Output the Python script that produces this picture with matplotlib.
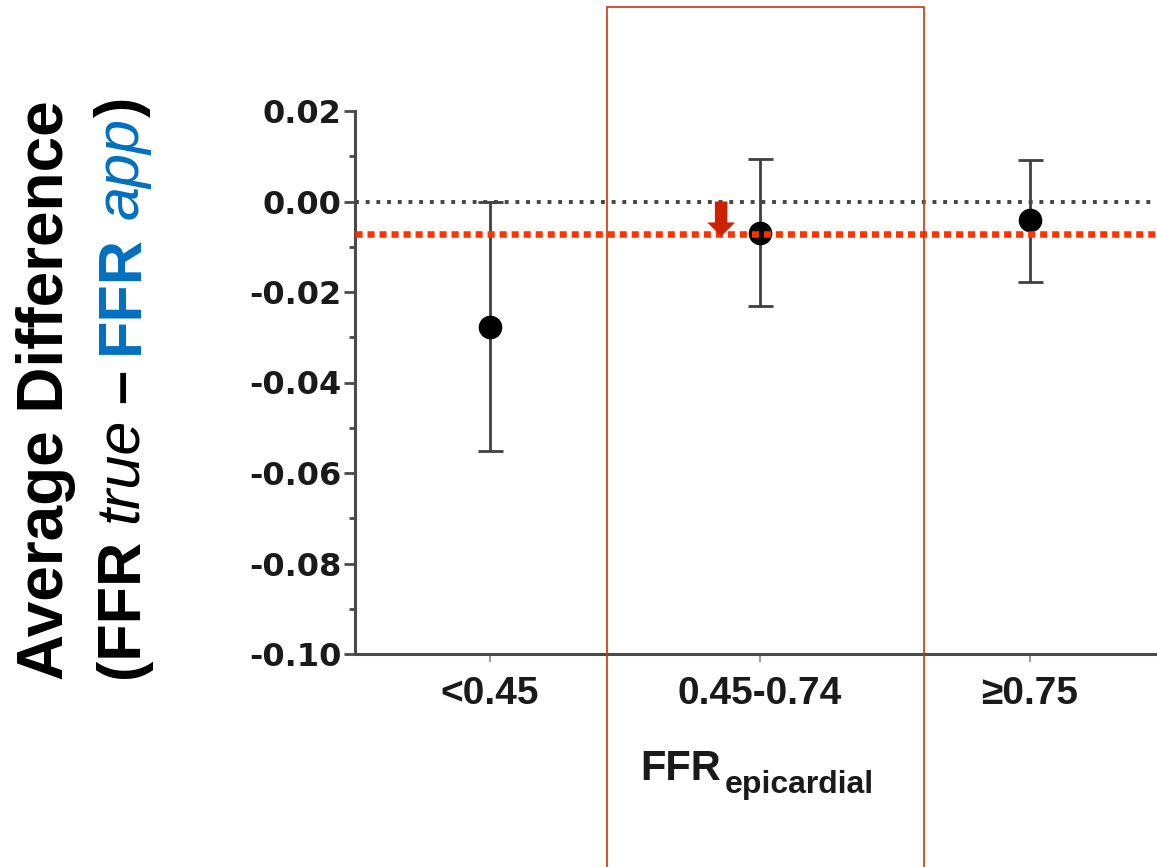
import matplotlib
matplotlib.use('Agg')
import matplotlib.pyplot as plt
from matplotlib.ticker import MultipleLocator, FixedLocator
from matplotlib.patches import Rectangle

# ---------------- data ----------------
categories = ['<0.45', '0.45-0.74', '≥0.75']
mean_diff = [-0.0277, -0.0069, -0.0040]
ci_upper = [0.0000, 0.0095, 0.0091]
ci_lower = [-0.0551, -0.0230, -0.0178]
overall_mean = -0.0071
y_ticks = [0.02, 0.00, -0.02, -0.04, -0.06, -0.08, -0.10]
y_tick_labels = ['0.02', '0.00', '-0.02', '-0.04', '-0.06', '-0.08', '-0.10']
arrow_x = 0.856
arrow_top = 0.0
arrow_tip = -0.0077

# ---------------- figure ----------------
W, H = 1157, 867
fig = plt.figure(figsize=(W / 100, H / 100), dpi=100)
fig.patch.set_facecolor('white')

ax = fig.add_axes([355 / W, (H - 654) / H, 810 / W, (654 - 111) / H])
ax.set_xlim(-0.5, 2.5)
ax.set_ylim(-0.10, 0.02)

xpos = list(range(len(categories)))
yerr = [[m - lo for m, lo in zip(mean_diff, ci_lower)],
        [hi - m for m, hi in zip(mean_diff, ci_upper)]]
ax.errorbar(xpos, mean_diff, yerr=yerr, fmt='o', color='black', ms=16,
            ecolor='#404040', elinewidth=2.0, capsize=9, capthick=2.0, zorder=2)

ax.axhline(0, color='#444444', lw=2.8, linestyle=(0, (1.0, 1.75)), zorder=3)
ax.axhline(overall_mean, color='#ff3300', lw=4.7, linestyle=(0, (1.08, 0.76)), zorder=3)

ax.annotate('', xy=(arrow_x, arrow_tip), xytext=(arrow_x, arrow_top),
            arrowprops=dict(arrowstyle='simple,head_length=1.0,head_width=2.0,tail_width=0.9',
                            fc='#cc2200', ec='#cc2200', lw=0, mutation_scale=10,
                            shrinkA=0, shrinkB=0), zorder=4)

for s in ['top', 'right']:
    ax.spines[s].set_visible(False)
for s in ['left', 'bottom']:
    ax.spines[s].set_color('#4a4a4a')
    ax.spines[s].set_linewidth(2.2)

ax.yaxis.set_major_locator(FixedLocator(y_ticks))
ax.set_yticklabels(y_tick_labels, fontfamily='DejaVu Sans', fontweight='bold',
                   fontsize=23, color='#1a1a1a')
ax.yaxis.set_minor_locator(MultipleLocator(0.01))
ax.tick_params(axis='y', which='major', length=8, width=2, color='#4a4a4a', pad=1.5)
ax.tick_params(axis='y', which='minor', length=4.5, width=2, color='#4a4a4a')

ax.set_xticks(xpos)
ax.set_xticklabels(categories, fontfamily='Liberation Sans', fontweight='bold',
                   fontsize=28, color='#1a1a1a')
ax.tick_params(axis='x', which='major', length=6, width=1.2, color='#888888', pad=10)

# x-axis title with subscript
fig.text(640 / W, (H - 780) / H, 'FFR', fontfamily='Liberation Sans', fontweight='bold',
         fontsize=30, color='#1a1a1a', ha='left', va='baseline')
fig.text(725 / W, (H - 793) / H, 'epicardial', fontfamily='Liberation Sans', fontweight='bold',
         fontsize=23, color='#1a1a1a', ha='left', va='baseline')

# red highlight rectangle
fig.add_artist(Rectangle((607 / W, -0.02), (924 - 607) / W, (H - 7) / H + 0.02,
                         transform=fig.transFigure, fill=False, ec='#cc3311', lw=1.2, zorder=10))

# y-axis title (two lines, rotated, mixed styles)
fam = 'Liberation Sans'
fig.text(63 / W, (H - 680) / H, 'Average Difference', fontfamily=fam, fontweight='bold',
         fontsize=46, color='black', rotation=90, rotation_mode='anchor',
         ha='left', va='baseline')

FS2 = 44
blue = '#0070c0'
pieces = [('(FFR', 'black', 'bold', 'normal', True),
          ('true', 'black', 'normal', 'italic', True),
          ('–', 'black', 'bold', 'normal', True),
          ('FFR', blue, 'bold', 'normal', True),
          ('app', blue, 'normal', 'italic', False),
          (')', 'black', 'bold', 'normal', False)]
renderer = fig.canvas.get_renderer()
em_px = FS2 * 100 / 72
space_px = 0.25 * em_px
ypix = H - 678
for txt, col, wt, st, gap in pieces:
    t = fig.text(138 / W, ypix / H, txt, fontfamily=fam, fontweight=wt, fontstyle=st,
                 fontsize=FS2, color=col, rotation=90, rotation_mode='anchor',
                 ha='left', va='baseline')
    ext = t.get_window_extent(renderer)
    ypix += ext.height + (space_px if gap else 0)

fig.savefig('out.png', dpi=100)
